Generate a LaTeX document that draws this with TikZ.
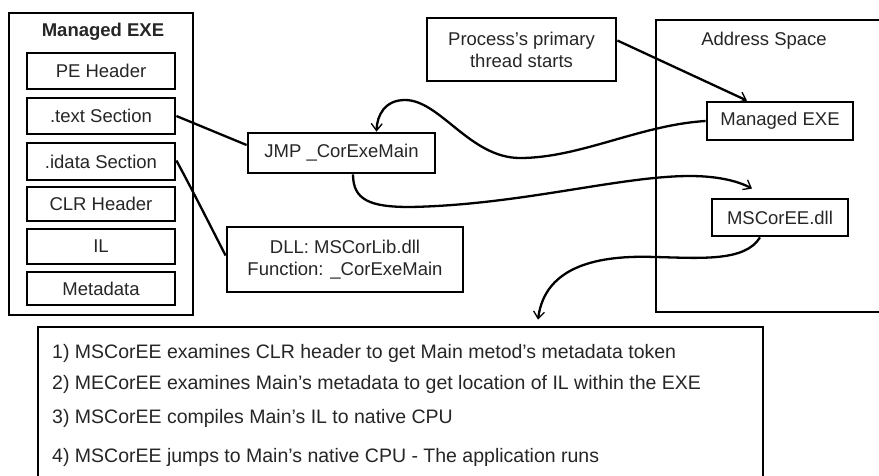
\documentclass[tikz,border=0pt]{standalone}
\usepackage{fontspec}
\setmainfont{Liberation Sans}[Ligatures=ResetAll]
\usetikzlibrary{arrows.meta,calc}
\begin{document}
\begin{tikzpicture}[x=1pt,y=-1pt,
  box/.style={draw=black,line width=2.8pt,rectangle,inner sep=0pt,align=center,
    font=\fontsize{18.5}{22}\selectfont,text=black!85},
  conn/.style={draw=black,line width=2.3pt},
  arr/.style={conn,-{Straight Barb[length=7pt,width=11pt,line width=1.3pt]}},
  txt/.style={inner sep=0pt,font=\fontsize{18.5}{22}\selectfont,text=black!85},
  ltxt/.style={inner sep=0pt,anchor=west,font=\fontsize{19.5}{22}\selectfont,text=black!85}]
\useasboundingbox (0,0) rectangle (879,475);
\fill[white] (0,0) rectangle (879,475);
% left: managed EXE
\node[box,minimum width=184pt,minimum height=302pt] (outer) at (101,164) {};
\node[txt,font=\fontsize{18.5}{22}\selectfont\bfseries] (title) at (103,32) {Managed EXE};
\node[box,minimum width=148pt,minimum height=36pt] (pe) at (101,71) {PE Header};
\node[box,minimum width=148pt,minimum height=36pt] (textsec) at (101,116) {.text Section};
\node[box,minimum width=148pt,minimum height=37pt] (idata) at (101,161.5) {.idata Section};
\node[box,minimum width=148pt,minimum height=34pt] (clr) at (101,204) {CLR Header};
\node[box,minimum width=148pt,minimum height=35pt] (il) at (101,246.5) {IL};
\node[box,minimum width=148pt,minimum height=33pt] (meta) at (101,288.5) {Metadata};
% middle
\node[box,minimum width=187pt,minimum height=40pt] (jmp) at (341.5,153) {JMP \_CorExeMain};
\node[box,minimum width=236pt,minimum height=65pt] (dll) at (345,259.5) {DLL: MSCorLib.dll\\Function: \_CorExeMain};
\node[box,minimum width=189pt,minimum height=63pt] (proc) at (521.5,49.5) {Process's primary\\thread starts};
% address space
\node[box,minimum width=234pt,minimum height=292pt] (addr) at (773,166) {};
\node[txt] (addrlbl) at (764,41) {Address Space};
\node[box,minimum width=146pt,minimum height=38pt] (mexe) at (780,121) {Managed EXE};
\node[box,minimum width=136pt,minimum height=37pt] (mscoree) at (780,217.5) {MSCorEE.dll};
% bottom box
\node[box,minimum width=725pt,minimum height=163pt] (steps) at (400.5,408.5) {};
\node[ltxt] (s1) at (52,353) {1) MSCorEE examines CLR header to get Main metod's metadata token};
\node[ltxt] (s2) at (52,384) {2) MECorEE examines Main's metadata to get location of IL within the EXE};
\node[ltxt] (s3) at (52,418) {3) MSCorEE compiles Main's IL to native CPU};
\node[ltxt] (s4) at (52,457) {4) MSCorEE jumps to Main's native CPU - The application runs};
% connectors
\coordinate (jmpin) at ($(jmp.west)+(0,-8)$);
\draw[conn] (textsec.east) -- (jmpin);
\coordinate (dllin) at ($(dll.west)+(0,-4)$);
\draw[conn] ($(idata.east)+(0,-1)$) .. controls (195,195) and (215,235) .. (dllin);
\coordinate (procout) at ($(proc.east)+(0,-9)$);
\coordinate (mexetop) at ($(mexe.north)+(-33,0)$);
\draw[arr] (procout) -- (mexetop);
\coordinate (jmptop) at ($(jmp.north)+(35,0)$);
\draw[arr] (mexe.west) .. controls (640,125) and (580,158) .. (520,158)
  .. controls (470,158) and (440,100) .. (405,100)
  .. controls (385,100) and (377,115) .. (jmptop);
\coordinate (jmpbot) at ($(jmp.south)+(11.5,0)$);
\coordinate (msin) at ($(mscoree.north)+(-28,-9)$);
\draw[arr] (jmpbot) .. controls (353,200) and (370,207) .. (410,207)
  .. controls (520,205) and (620,176) .. (690,176)
  .. controls (720,176) and (740,182) .. (msin);
\coordinate (msout) at ($(mscoree.south)+(-20,0)$);
\coordinate (stepsin) at ($(steps.north)+(137.5,-6)$);
\draw[arr] (msout) .. controls (745,262) and (700,258) .. (655,257)
  .. controls (600,255) and (545,265) .. (stepsin);
\end{tikzpicture}
\end{document}
